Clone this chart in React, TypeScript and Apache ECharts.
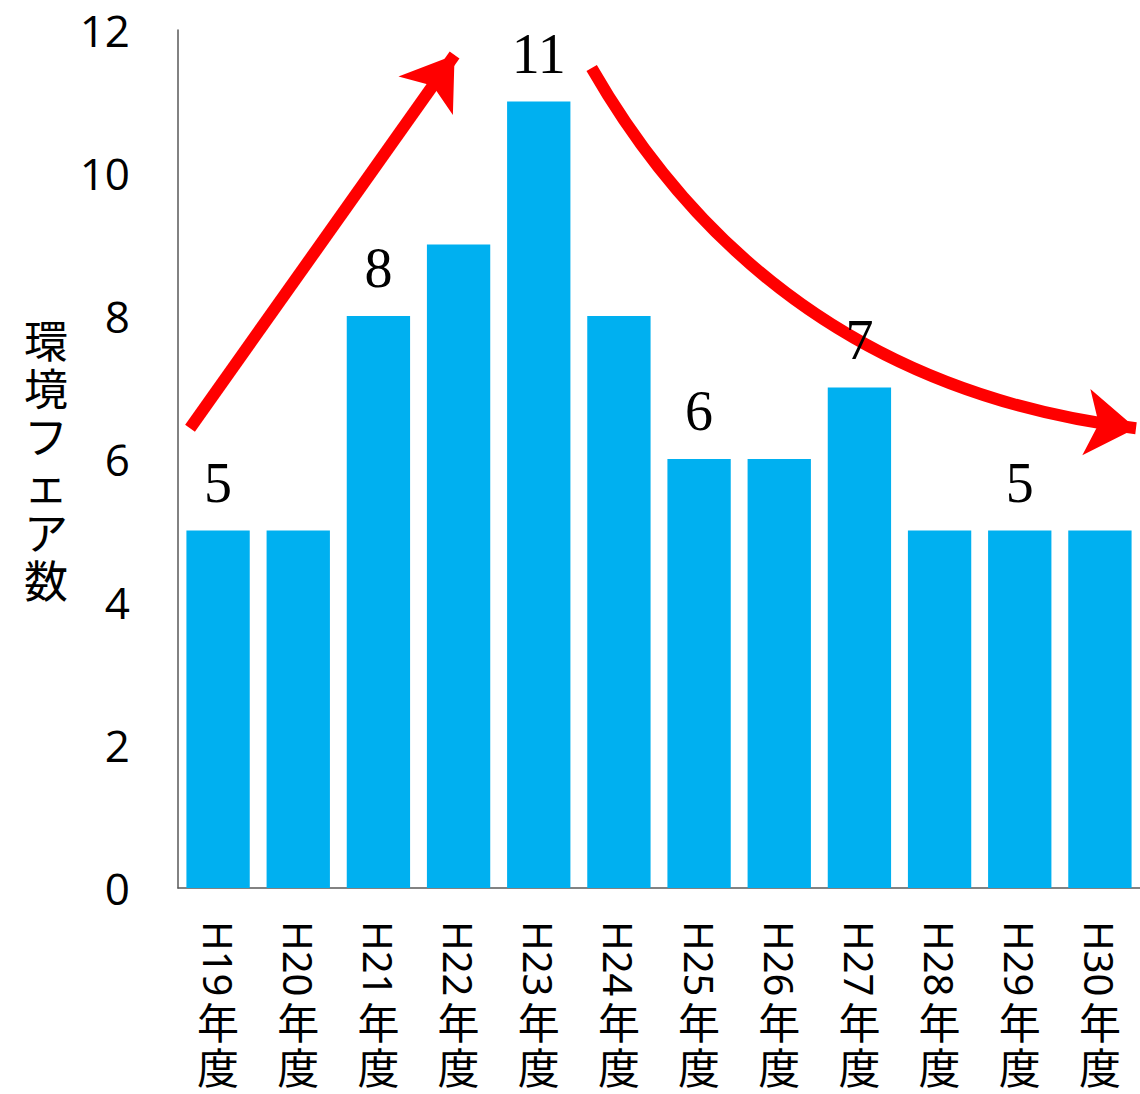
import React, { useEffect, useRef } from "react";
import * as echarts from "echarts";

const categories = ["H19", "H20", "H21", "H22", "H23", "H24", "H25", "H26", "H27", "H28", "H29", "H30"];
const fairCounts = [5, 5, 8, 9, 11, 8, 6, 6, 7, 5, 5, 5];
const labeledIndices = [0, 2, 4, 6, 8, 10];
const yTicks = { min: 0, max: 12, interval: 2 };
const yAxisName = "環境フェア数";
const yearSuffix = ["年", "度"];

// arrow annotations in (category position, value) space
const upArrow = [[-0.35, 6.43], [2.95, 11.65]];
const downArrow = [[4.66, 11.47], [11.45, 6.43]];

export default function App() {
  const ref = useRef<HTMLDivElement>(null);
  useEffect(() => {
    if (!ref.current) return;
    const chart = echarts.init(ref.current, undefined, { renderer: "svg" });
    const axisColor = "#595959";
    chart.setOption({
      animation: false,
      grid: { left: 178, right: 0, top: 30, bottom: 206, containLabel: false },
      xAxis: [
        {
          type: "category",
          data: categories,
          axisLine: { lineStyle: { color: axisColor, width: 1.5 } },
          axisTick: { show: false },
          axisLabel: { show: false },
        },
        { type: "value", min: -0.5, max: 11.5, show: false },
      ],
      yAxis: {
        type: "value",
        min: yTicks.min,
        max: yTicks.max,
        interval: yTicks.interval,
        name: yAxisName.split("").join("\n"),
        nameLocation: "middle",
        nameRotate: 0,
        nameGap: 110,
        nameTextStyle: {
          fontFamily: "'Noto Sans CJK JP'",
          fontSize: 44,
          lineHeight: 48,
          color: "#000",
        },
        axisLine: { show: true, onZero: false, lineStyle: { color: axisColor, width: 1.5 } },
        axisTick: { show: false },
        splitLine: { show: false },
        axisLabel: {
          fontFamily: "'Open Sans', 'Noto Sans', sans-serif",
          fontSize: 44,
          color: "#000",
          margin: 48,
        },
      },
      series: [
        {
          type: "lines",
          coordinateSystem: "cartesian2d",
          xAxisIndex: 1,
          yAxisIndex: 0,
          z: 1,
          silent: true,
          symbol: ["none", "arrow"],
          symbolSize: [48, 50],
          lineStyle: { color: "#FF0000", width: 12, opacity: 1 },
          data: [
            { coords: upArrow, lineStyle: { curveness: 0 } },
            { coords: downArrow, lineStyle: { curveness: -0.25 } },
          ],
        },
        {
          type: "bar",
          z: 3,
          barCategoryGap: "21%",
          data: fairCounts.map((v, i) => ({
            value: v,
            label: { show: labeledIndices.includes(i) },
          })),
          itemStyle: { color: "#00B0F0" },
          label: {
            position: "top",
            distance: 20,
            fontFamily: "'Liberation Serif', 'DejaVu Serif', serif",
            fontSize: 56,
            color: "#000",
          },
        },
        {
          type: "custom",
          z: 5,
          silent: true,
          clip: false,
          data: categories.map((c, i) => [i, 0]),
          encode: { x: 0, y: 1 },
          renderItem: (params: any, api: any) => {
            const idx = api.value(0);
            const p = api.coord([idx, 0]);
            const x = p[0];
            const y = p[1];
            return {
              type: "group",
              children: [
                {
                  type: "text",
                  x: x,
                  y: y + 33,
                  rotation: -Math.PI / 2,
                  style: {
                    text: categories[idx],
                    fontFamily: "'Noto Sans', sans-serif",
                    fontSize: 40,
                    fill: "#000",
                    align: "left",
                    verticalAlign: "middle",
                  },
                },
                {
                  type: "text",
                  x: x,
                  y: y + 155,
                  style: {
                    text: yearSuffix.join("\n"),
                    fontFamily: "'Noto Sans CJK JP'",
                    fontSize: 42,
                    lineHeight: 45,
                    fill: "#000",
                    align: "center",
                    verticalAlign: "middle",
                  },
                },
              ],
            };
          },
        },
      ],
    });
    return () => chart.dispose();
  }, []);
  return (
    <div
      ref={ref}
      style={{ position: "fixed", left: 0, top: 0, width: 1140, height: 1094, background: "#fff" }}
    />
  );
}
